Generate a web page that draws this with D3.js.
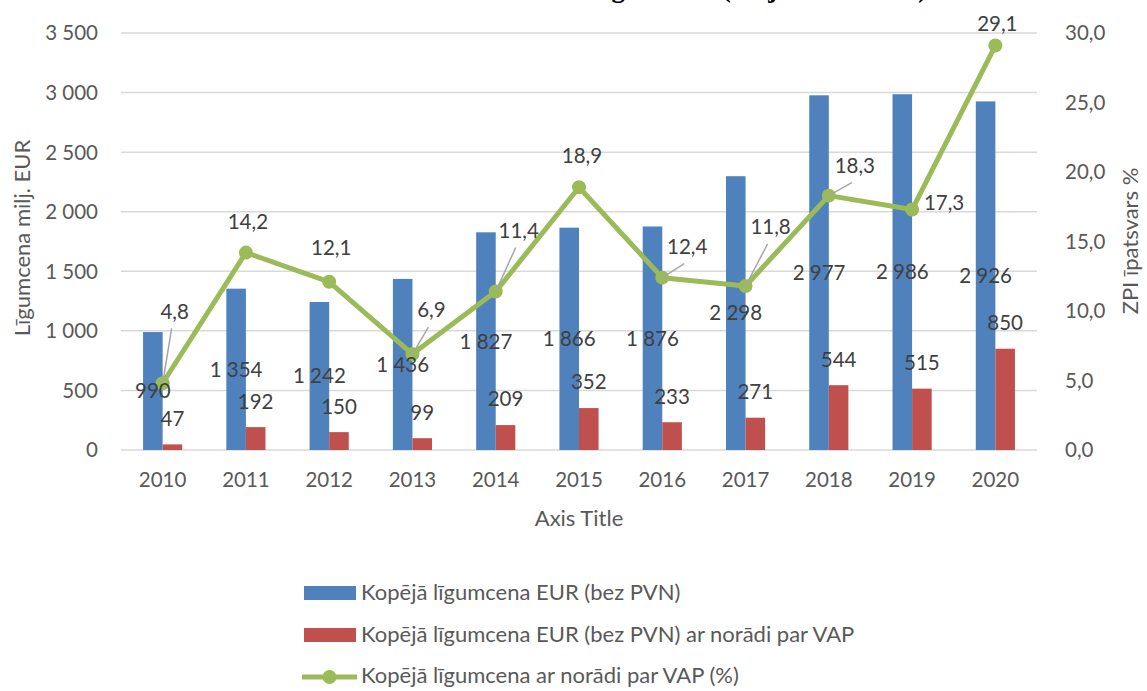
<!DOCTYPE html>
<html>
<head>
<meta charset="utf-8">
<script src="https://cdn.jsdelivr.net/npm/d3@7"></script>
<style>
  body { margin: 0; background: #fff; }
  text { font-family: Lato, "Open Sans", sans-serif; }
</style>
</head>
<body>
<svg id="chart" width="1147" height="691"></svg>
<script>
// data
const years = ["2010", "2011", "2012", "2013", "2014", "2015", "2016", "2017", "2018", "2019", "2020"];
const totalContract = [990, 1354, 1242, 1436, 1827, 1866, 1876, 2298, 2977, 2986, 2926];
const vapContract = [47, 192, 150, 99, 209, 352, 233, 271, 544, 515, 850];
const vapShare = [4.8, 14.2, 12.1, 6.9, 11.4, 18.9, 12.4, 11.8, 18.3, 17.3, 29.1];
const leftTicks = [0, 500, 1000, 1500, 2000, 2500, 3000, 3500];
const rightTicks = [0, 5, 10, 15, 20, 25, 30];
const seriesNames = [
  "Kopējā līgumcena EUR (bez PVN)",
  "Kopējā līgumcena EUR (bez PVN) ar norādi par VAP",
  "Kopējā līgumcena ar norādi par VAP (%)"
];

// the % labels were dragged by hand in the original, shift from each point (px)
const shareLabelShift = [[12, -72], [2, -31], [2, -34], [19, -44], [23, -61], [3, -32],
  [25, -31], [25, -59], [26, -30], [32, -7], [2, -22]];

const lv = d3.formatLocale({decimal: ",", thousands: " ", grouping: [3], currency: ["", ""]});
const fmtInt = lv.format(",d");
const fmt1 = lv.format(",.1f");

const blue = "#4F81BD", red = "#C0504D", green = "#9BBB59";
const grid = "#D9D9D9", axisText = "#595959", labelText = "#404040";
const fs = 20.5;    // numbers
const fsWord = 22;  // titles and legend

const svg = d3.select("#chart");

// cut-off heading at the very top of the picture, only descenders show
svg.append("text")
  .attr("x", 586).attr("y", -3)
  .style("font-family", "'Liberation Serif', 'Times New Roman', serif")
  .style("font-weight", "bold")
  .style("font-size", "27px")
  .attr("fill", "#000")
  .text("Līgumcena (milj. EUR un %)");

const x = d3.scaleBand().domain(years).range([121, 1037]).padding(0);
const xInner = d3.scaleBand().domain(["total", "vap"])
  .range([-x.bandwidth() * 0.235, x.bandwidth() * 0.235]);
const y = d3.scaleLinear().domain([0, 3500]).range([450, 33]);
const y2 = d3.scaleLinear().domain([0, 30]).range([450, 33]);
const cx = d => x(d) + x.bandwidth() / 2;

// gridlines
svg.append("g").selectAll("line")
  .data(leftTicks)
  .join("line")
    .attr("x1", 121).attr("x2", 1037)
    .attr("y1", d => y(d)).attr("y2", d => y(d))
    .attr("stroke", grid).attr("stroke-width", 1.5);

// left axis labels
svg.append("g").selectAll("text")
  .data(leftTicks)
  .join("text")
    .attr("x", 98).attr("y", d => y(d)).attr("dy", "0.36em")
    .attr("text-anchor", "end")
    .attr("fill", axisText).style("font-size", fs + "px")
    .text(d => fmtInt(d));

// right axis labels
svg.append("g").selectAll("text")
  .data(rightTicks)
  .join("text")
    .attr("x", 1065).attr("y", d => y2(d)).attr("dy", "0.36em")
    .attr("fill", axisText).style("font-size", fs + "px")
    .text(d => fmt1(d));

// category labels
svg.append("g").selectAll("text")
  .data(years)
  .join("text")
    .attr("x", d => cx(d)).attr("y", 480).attr("dy", "0.36em")
    .attr("text-anchor", "middle")
    .attr("fill", axisText).style("font-size", fs + "px")
    .text(d => d);

// axis titles
svg.append("text")
  .attr("x", 579).attr("y", 518).attr("dy", "0.36em")
  .attr("text-anchor", "middle")
  .attr("fill", axisText).style("font-size", fsWord + "px")
  .text("Axis Title");

svg.append("text")
  .attr("transform", "translate(30,238) rotate(-90)")
  .attr("text-anchor", "middle")
  .attr("fill", axisText).style("font-size", fsWord + "px")
  .text("Līgumcena milj. EUR");

svg.append("text")
  .attr("transform", "translate(1138,241) rotate(-90)")
  .attr("text-anchor", "middle")
  .attr("fill", axisText).style("font-size", fsWord + "px")
  .text("ZPI īpatsvars %");

// bars
const rows = years.map((yr, i) => ({year: yr, total: totalContract[i], vap: vapContract[i], share: vapShare[i], i}));

svg.append("g").selectAll("rect")
  .data(rows)
  .join("rect")
    .attr("x", d => cx(d.year) + xInner("total"))
    .attr("y", d => y(d.total))
    .attr("width", xInner.bandwidth())
    .attr("height", d => y(0) - y(d.total))
    .attr("fill", blue);

svg.append("g").selectAll("rect")
  .data(rows)
  .join("rect")
    .attr("x", d => cx(d.year) + xInner("vap"))
    .attr("y", d => y(d.vap))
    .attr("width", xInner.bandwidth())
    .attr("height", d => y(0) - y(d.vap))
    .attr("fill", red);

// line
const line = d3.line()
  .x(d => cx(d.year))
  .y(d => y2(d.share));

svg.append("path")
  .datum(rows)
  .attr("fill", "none")
  .attr("stroke", green)
  .attr("stroke-width", 5)
  .attr("stroke-linejoin", "round")
  .attr("d", line);

svg.append("g").selectAll("circle")
  .data(rows)
  .join("circle")
    .attr("cx", d => cx(d.year))
    .attr("cy", d => y2(d.share))
    .attr("r", 7)
    .attr("fill", green);

// bar labels: blue centred in bar, red above bar
svg.append("g").selectAll("text")
  .data(rows)
  .join("text")
    .attr("x", d => cx(d.year) + xInner("total") + xInner.bandwidth() / 2)
    .attr("y", d => y(d.total / 2)).attr("dy", "0.36em")
    .attr("text-anchor", "middle")
    .attr("fill", labelText).style("font-size", fs + "px")
    .text(d => fmtInt(d.total));

svg.append("g").selectAll("text")
  .data(rows)
  .join("text")
    .attr("x", d => cx(d.year) + xInner("vap") + xInner.bandwidth() / 2)
    .attr("y", d => y(d.vap) - 26).attr("dy", "0.36em")
    .attr("text-anchor", "middle")
    .attr("fill", labelText).style("font-size", fs + "px")
    .text(d => fmtInt(d.vap));

// % labels with leader lines where they were moved away
const moved = d => {
  const [dx, dy] = shareLabelShift[d.i];
  return dy < -40 || (dx > 15 && dy < -20);
};

svg.append("g").selectAll("line")
  .data(rows.filter(moved))
  .join("line")
    .attr("x1", d => cx(d.year))
    .attr("y1", d => y2(d.share))
    .attr("x2", d => cx(d.year) + shareLabelShift[d.i][0] - 3)
    .attr("y2", d => y2(d.share) + shareLabelShift[d.i][1] + 17)
    .attr("stroke", "#A6A6A6").attr("stroke-width", 1.5);

svg.append("g").selectAll("text")
  .data(rows)
  .join("text")
    .attr("x", d => cx(d.year) + shareLabelShift[d.i][0])
    .attr("y", d => y2(d.share) + shareLabelShift[d.i][1]).attr("dy", "0.36em")
    .attr("text-anchor", "middle")
    .attr("fill", labelText).style("font-size", fs + "px")
    .text(d => fmt1(d.share));

// legend
const legend = svg.append("g");
const legendRows = [600, 642, 683];

legend.selectAll("text")
  .data(seriesNames)
  .join("text")
    .attr("x", 361).attr("y", (d, i) => legendRows[i])
    .attr("fill", axisText).style("font-size", fsWord + "px")
    .text(d => d);

legend.append("rect").attr("x", 304).attr("y", legendRows[0] - 14).attr("width", 52).attr("height", 14).attr("fill", blue);
legend.append("rect").attr("x", 304).attr("y", legendRows[1] - 14).attr("width", 52).attr("height", 14).attr("fill", red);
legend.append("line").attr("x1", 302).attr("x2", 357).attr("y1", legendRows[2] - 6).attr("y2", legendRows[2] - 6)
  .attr("stroke", green).attr("stroke-width", 5);
legend.append("circle").attr("cx", 329.5).attr("cy", legendRows[2] - 6).attr("r", 7).attr("fill", green);
</script>
</body>
</html>
